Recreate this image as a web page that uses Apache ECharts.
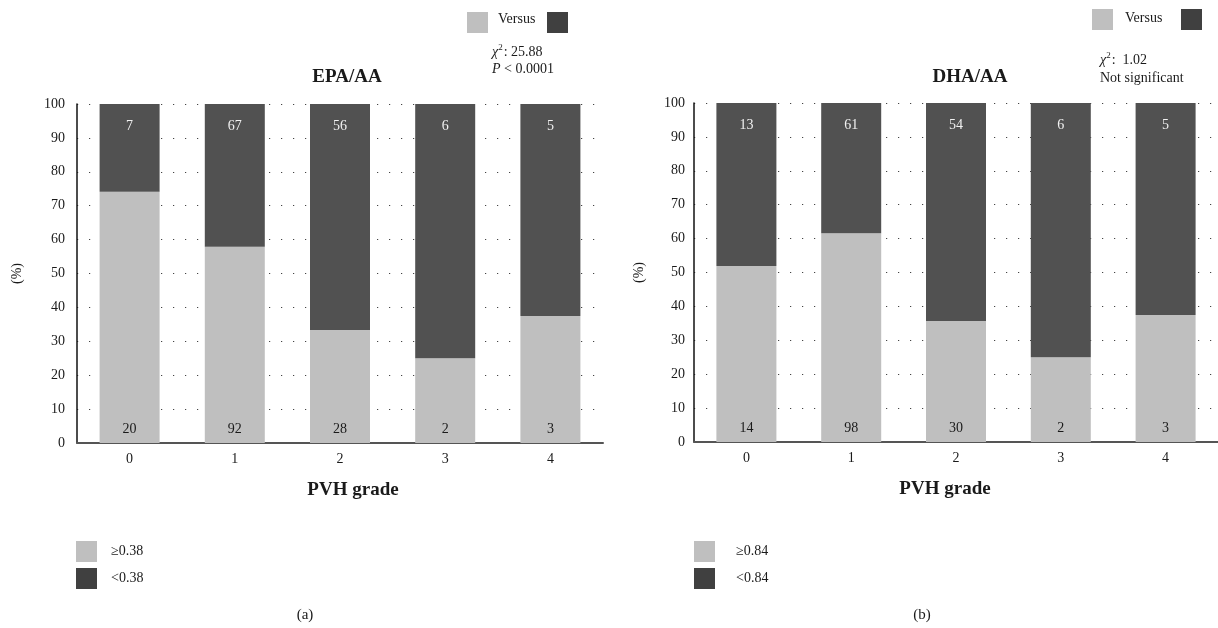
<!DOCTYPE html>
<html><head><meta charset="utf-8">
<script src="https://cdn.jsdelivr.net/npm/echarts@6/dist/echarts.min.js"></script>
<style>html,body{margin:0;padding:0;background:#fff}#c{width:1218px;height:628px}</style>
</head><body><div id="c"></div>
<script>
// ---- data ----
const categories = ['0', '1', '2', '3', '4'];
// EPA/AA panel: percentage of each PVH grade (stacked to 100 %)
const epaHighPct = [74.1, 57.9, 33.3, 25.0, 37.5];   // >=0.38
const epaLowPct  = [25.9, 42.1, 66.7, 75.0, 62.5];   // <0.38
const epaHighN   = [20, 92, 28, 2, 3];
const epaLowN    = [7, 67, 56, 6, 5];
// DHA/AA panel
const dhaHighPct = [51.9, 61.6, 35.7, 25.0, 37.5];   // >=0.84
const dhaLowPct  = [48.1, 38.4, 64.3, 75.0, 62.5];   // <0.84
const dhaHighN   = [14, 98, 30, 2, 3];
const dhaLowN    = [13, 61, 54, 6, 5];
const yMin = 0, yMax = 100, yStep = 10;
const epaNames = ['\u22650.38', '<0.38'];
const dhaNames = ['\u22650.84', '<0.84'];
const epaStats = ['25.88', '< 0.0001'];
const dhaStats = ['1.02', 'Not significant'];

// ---- styles ----
const FONT = '"Liberation Serif", "DejaVu Serif", serif';
const LIGHT = '#bfbfbf', DARK = '#515151', DARK_KEY = '#404040';
const TXT = '#1a1a1a';

function xAxis(gi, pad) {
  return {
    type: 'category', gridIndex: gi, data: categories,
    axisLine: {show: true, lineStyle: {color: '#555', width: 2}},
    axisTick: {show: false},
    axisLabel: {color: TXT, fontFamily: FONT, fontSize: 14, margin: 9},
    name: 'PVH grade', nameLocation: 'middle', nameGap: 38,
    nameTextStyle: {fontFamily: FONT, fontSize: 19, fontWeight: 'bold', color: TXT, padding: pad}
  };
}
function yAxis(gi, gap, margin) {
  return {
    type: 'value', gridIndex: gi, min: yMin, max: yMax, interval: yStep,
    axisLine: {show: true, lineStyle: {color: '#111', width: 1.5}},
    axisTick: {show: false},
    axisLabel: {color: TXT, fontFamily: FONT, fontSize: 14, margin: margin},
    splitLine: {show: true, lineStyle: {color: '#444', width: 1.2, type: [1.2, 10.8]}},
    name: '(%)', nameLocation: 'middle', nameGap: gap, nameRotate: 90,
    nameTextStyle: {fontFamily: FONT, fontSize: 14, color: TXT}
  };
}
function bars(name, vals, counts, gi, color, lblColor, pos, dist) {
  return {
    name: name, type: 'bar', stack: 's' + gi, xAxisIndex: gi, yAxisIndex: gi,
    data: vals, barWidth: 60,
    itemStyle: {color: color},
    label: {show: true, position: pos, distance: dist, color: lblColor,
      fontFamily: FONT, fontSize: 14,
      formatter: p => String(counts[p.dataIndex])}
  };
}
function legend(names, left, pad) {
  return {
    orient: 'vertical', left: left, top: 536, itemWidth: 21, itemHeight: 21, itemGap: 6,
    icon: 'rect', selectedMode: false,
    textStyle: {fontFamily: FONT, fontSize: 14, color: TXT, padding: [0, 0, 0, pad]},
    data: [{name: names[0], itemStyle: {color: LIGHT}}, {name: names[1], itemStyle: {color: DARK_KEY}}]
  };
}
function txt(x, y, text, opts) {
  return {type: 'text', x: x, y: y, style: Object.assign({
    text: text, fill: TXT, font: '14px ' + FONT, align: 'left', verticalAlign: 'middle',
    textAlign: 'left', textVerticalAlign: 'middle'}, opts || {})};
}
function rect(x, y, w, h, c) {
  return {type: 'rect', shape: {x: x, y: y, width: w, height: h}, style: {fill: c}};
}
const rich = {
  i: {fontFamily: FONT, fontSize: 14, fontStyle: 'italic', color: TXT},
  s: {fontFamily: FONT, fontSize: 9, color: TXT, verticalAlign: 'top', padding: [0, 1, 8, 0]},
  n: {fontFamily: FONT, fontSize: 14, color: TXT}
};

const chart = echarts.init(document.getElementById('c'));
chart.setOption({
  backgroundColor: '#fff',
  animation: false,
  grid: [
    {left: 77, top: 104, width: 526, height: 339},
    {left: 694, top: 103, width: 524, height: 339}
  ],
  xAxis: [xAxis(0, [0, 0, 0, 26]), xAxis(1, [0, 22, 0, 0])],
  yAxis: [yAxis(0, 53, 12), yAxis(1, 48, 9)],
  legend: [legend(epaNames, 71, 9), legend(dhaNames, 689, 16)],
  series: [
    bars(epaNames[0], epaHighPct, epaHighN, 0, LIGHT, TXT, 'insideBottom', 7),
    bars(epaNames[1], epaLowPct, epaLowN, 0, DARK, '#f2f2f2', 'insideTop', 15),
    bars(dhaNames[0], dhaHighPct, dhaHighN, 1, LIGHT, TXT, 'insideBottom', 7),
    bars(dhaNames[1], dhaLowPct, dhaLowN, 1, DARK, '#f2f2f2', 'insideTop', 15)
  ],
  graphic: [
    txt(347, 77, 'EPA/AA', {font: 'bold 19px ' + FONT, align: 'center', textAlign: 'center'}),
    txt(970, 77, 'DHA/AA', {font: 'bold 19px ' + FONT, align: 'center', textAlign: 'center'}),
    rect(467, 12, 21, 21, LIGHT),
    txt(498, 19, 'Versus'),
    rect(547, 12, 21, 21, DARK_KEY),
    txt(492, 52, '{i|\u03c7}{s|2}{n|: ' + epaStats[0] + '}', {rich: rich}),
    txt(492, 69, '{i|P}{n| ' + epaStats[1] + '}', {rich: rich}),
    rect(1092, 9, 21, 21, LIGHT),
    txt(1125, 18, 'Versus'),
    rect(1181, 9, 21, 21, DARK_KEY),
    txt(1100, 60, '{i|\u03c7}{s|2}{n|:  ' + dhaStats[0] + '}', {rich: rich}),
    txt(1100, 78, dhaStats[1]),
    txt(305, 615, '(a)', {font: '15px ' + FONT, align: 'center', textAlign: 'center'}),
    txt(922, 615, '(b)', {font: '15px ' + FONT, align: 'center', textAlign: 'center'})
  ]
});
</script></body></html>
